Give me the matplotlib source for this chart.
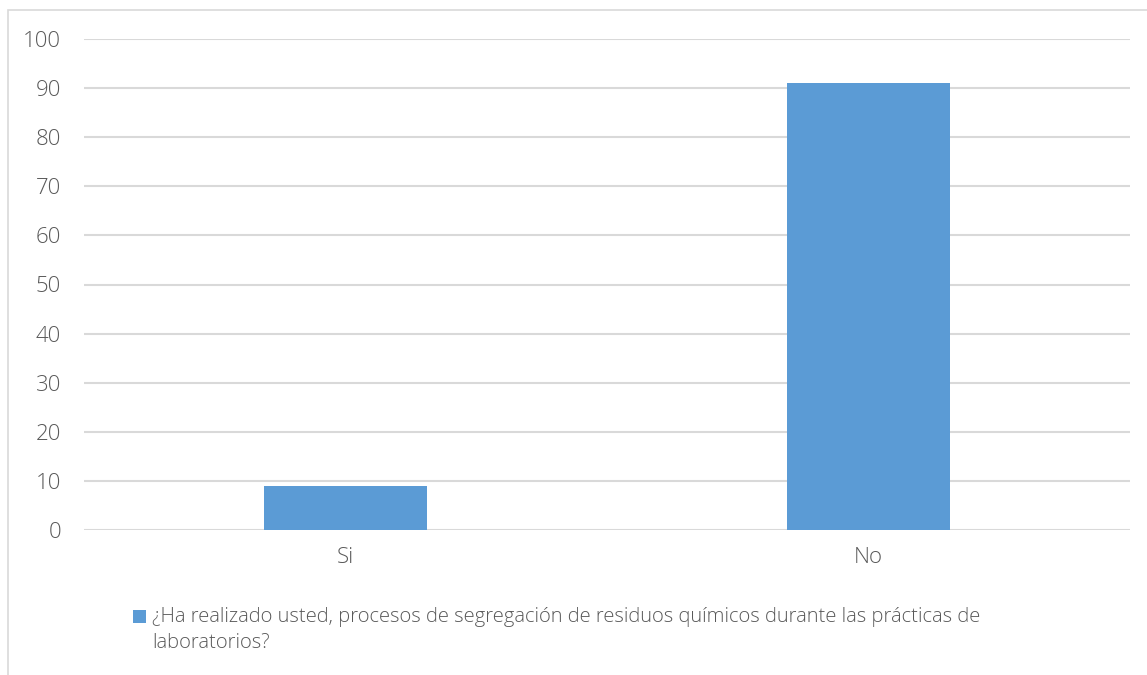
import matplotlib
matplotlib.use("Agg")
import matplotlib.pyplot as plt
from matplotlib.patches import Rectangle

categories = ["Si", "No"]
values = [9, 91]
yticks = list(range(0, 101, 10))
series_label = ("¿Ha realizado usted, procesos de segregación de residuos químicos durante las prácticas de\n"
                "laboratorios?")

W, H = 1147, 675
BAR_COLOR = "#5b9bd5"
TEXT_COLOR = "#595959"
GRID_COLOR = "#d9d9d9"

plt.rcParams["font.family"] = ["Open Sans", "DejaVu Sans"]
plt.rcParams["font.weight"] = 300

fig = plt.figure(figsize=(W / 100, H / 100), dpi=100)
fig.patch.set_facecolor("white")

# outer chart frame (left and top edges visible)
fig.patches.append(Rectangle((8 / W, -0.05), 1.2, (H - 10) / H + 0.05,
                             transform=fig.transFigure, fill=False,
                             edgecolor=GRID_COLOR, linewidth=1.2))

ax = fig.add_axes([84 / W, (H - 530) / H, (1130 - 84) / W, (530 - 39) / H])
x = range(len(categories))
ax.bar(x, values, width=0.312, color=BAR_COLOR, zorder=3)
ax.set_xlim(-0.5, len(categories) - 0.5)
ax.set_ylim(0, 100)
ax.set_yticks(yticks)
ax.set_xticks(list(x))
ax.set_xticklabels(categories)
ax.grid(axis="y", color=GRID_COLOR, linewidth=1.5, zorder=0)
for s in ax.spines.values():
    s.set_visible(False)
ax.tick_params(axis="both", length=0, labelsize=16, colors=TEXT_COLOR)
ax.tick_params(axis="y", pad=16.5)
ax.tick_params(axis="x", pad=12.5)

# legend entry
fig.patches.append(Rectangle((133 / W, 1 - 623 / H), 13 / W, 13 / H,
                             transform=fig.transFigure, facecolor=BAR_COLOR,
                             edgecolor="none"))
fig.text(152 / W, 1 - 607 / H, series_label, fontsize=14.5, color=TEXT_COLOR,
         va="top", ha="left", linespacing=1.38)

fig.savefig("out.png", dpi=100, facecolor="white")
